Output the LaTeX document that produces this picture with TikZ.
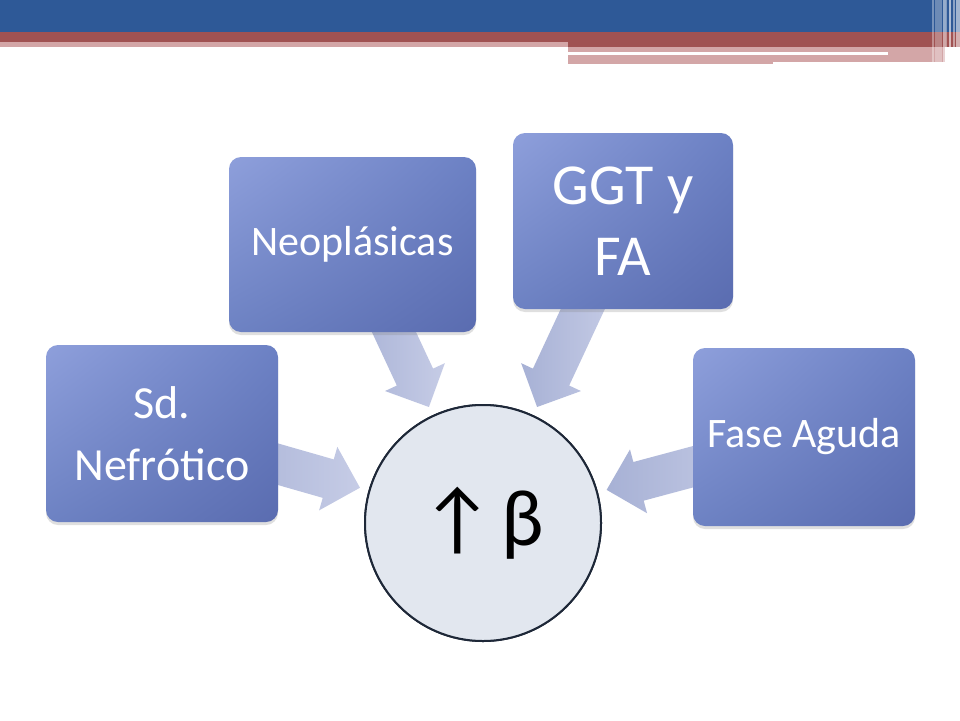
\documentclass[tikz,border=0pt]{standalone}
\usepackage{fontspec}
\setmainfont{Carlito}
\usetikzlibrary{shadows,shadings,calc}
\definecolor{banblue}{HTML}{2E5997}
\definecolor{banred}{HTML}{A05252}
\definecolor{banpink}{HTML}{D3A6A7}
\definecolor{boxtl}{HTML}{8E9FDB}
\definecolor{boxtr}{HTML}{6C81C4}
\definecolor{boxbl}{HTML}{6D82C3}
\definecolor{boxbr}{HTML}{5A6CB0}
\definecolor{arrdark}{HTML}{A7B1D5}
\definecolor{arrlight}{HTML}{C6CCE6}
\definecolor{circfill}{HTML}{E2E7EF}
\definecolor{circline}{HTML}{1E2838}
\tikzset{
  itembox/.style={rectangle, rounded corners=12pt, inner sep=0pt,
    upper left=boxtl, upper right=boxtr, lower left=boxbl, lower right=boxbr,
    drop shadow={opacity=0.25, shadow xshift=0pt, shadow yshift=-3pt},
    text=white, align=center},
  hubcircle/.style={circle, minimum size=236pt, inner sep=0pt, fill=circfill,
    draw=circline, line width=2pt},
  blockarr/.style={left color=arrdark, right color=arrlight},
}
\newcommand\myblockarrow[2]{%
  \begin{scope}[shift={(#1)}, rotate=#2]
    \shade[blockarr] (0,0) -- (-33,33) -- (-33,20) -- (-150,20) -- (-150,-20) -- (-33,-20) -- (-33,-33) -- cycle;
  \end{scope}}
\begin{document}
\begin{tikzpicture}[x=1pt,y=-1pt]
\useasboundingbox (0,0) rectangle (960,720);
\fill[white] (0,0) rectangle (960,720);
% banner
\fill[banblue] (0,0) rectangle (960,32);
\fill[banred] (0,32) rectangle (960,42);
\fill[banpink] (0,42) rectangle (568,47);
\fill[banred] (568,42) rectangle (960,47);
\fill[banpink] (568,47) rectangle (945,52);
\fill[banpink] (888,52) rectangle (945,55);
\fill[banpink] (568,55) rectangle (773,64);
\fill[banpink] (773,55) rectangle (945,62);
\foreach \a/\b/\o in {932/933.5/0.35, 935/942/0.3, 943/945.5/0.5, 946/947/0.4, 949/951/0.6, 953/955/0.45, 956/960/0.55}{
  \fill[white,opacity=\o] (\a,0) rectangle (\b,64);
}
% hub
\node[hubcircle] (hub) at (483,523) {};
% tips
\coordinate (t1) at ($(hub.center)+(196:128)$);
\coordinate (t2) at ($(hub.center)+(245:128)$);
\coordinate (t3) at ($(hub.center)+(295:128)$);
\coordinate (t4) at ($(hub.center)+(345:128)$);
\myblockarrow{t1}{-16}
\myblockarrow{t2}{-65}
\myblockarrow{t3}{-115}
\myblockarrow{t4}{-165}
% boxes
\node[itembox, minimum width=232pt, minimum height=177pt, font=\fontsize{46}{62}\selectfont] (sd) at (162,433.5)
  {Sd.\\Nefrótico};
\node[itembox, minimum width=247pt, minimum height=175pt, font=\fontsize{42}{50}\selectfont] (neo) at (352.5,244.5)
  {Neoplásicas};
\node[itembox, minimum width=220pt, minimum height=176pt, font=\fontsize{58}{71}\selectfont] (ggt) at (623,221)
  {GGT y\\FA};
\node[itembox, minimum width=222pt, minimum height=178pt, font=\fontsize{42}{50}\selectfont] (fase) at (804,437)
  {Fase Aguda};
% hub redraw on top with text
\node[hubcircle, font=\fontsize{80}{96}\selectfont] at (hub.center) {↑\hspace{8pt}β};
\end{tikzpicture}
\end{document}
